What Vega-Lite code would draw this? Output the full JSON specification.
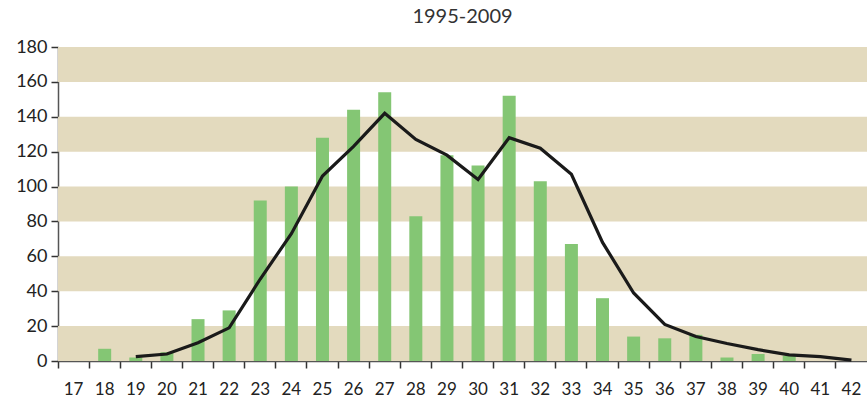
{
  "$schema": "https://vega.github.io/schema/vega-lite/v6.json",
  "autosize": "none",
  "width": 809,
  "height": 314,
  "padding": {"left": 58, "top": 47, "right": 0, "bottom": 41},
  "background": "white",
  "title": {"text": "1995-2009", "fontSize": 20, "font": "Lato", "fontWeight": "normal", "color": "#333333", "offset": 11, "anchor": "middle"},
  "config": {
    "view": {"stroke": null},
    "axis": {"labelFont": "Lato", "labelFontSize": 17, "labelColor": "#222222", "grid": false, "domainColor": "#555555", "tickColor": "#333333", "domainWidth": 1.5, "tickWidth": 1.5},
    "axisY": {"labelOverlap": false, "labelFontSize": 18, "tickSize": 7, "labelPadding": 4}
  },
  "datasets": {
    "bands": [
      {"lo": 0, "hi": 20}, {"lo": 40, "hi": 60}, {"lo": 80, "hi": 100}, {"lo": 120, "hi": 140}, {"lo": 160, "hi": 180}
    ],
    "bars": [
      {"age": "17", "count": 0}, {"age": "18", "count": 7}, {"age": "19", "count": 2}, {"age": "20", "count": 5},
      {"age": "21", "count": 24}, {"age": "22", "count": 29}, {"age": "23", "count": 92}, {"age": "24", "count": 100},
      {"age": "25", "count": 128}, {"age": "26", "count": 144}, {"age": "27", "count": 154}, {"age": "28", "count": 83},
      {"age": "29", "count": 118}, {"age": "30", "count": 112}, {"age": "31", "count": 152}, {"age": "32", "count": 103},
      {"age": "33", "count": 67}, {"age": "34", "count": 36}, {"age": "35", "count": 14}, {"age": "36", "count": 13},
      {"age": "37", "count": 15}, {"age": "38", "count": 2}, {"age": "39", "count": 4}, {"age": "40", "count": 3},
      {"age": "41", "count": 0}, {"age": "42", "count": 0}
    ],
    "line": [
      {"age": "19", "avg": 2.5}, {"age": "20", "avg": 4}, {"age": "21", "avg": 10.5}, {"age": "22", "avg": 19},
      {"age": "23", "avg": 47}, {"age": "24", "avg": 73}, {"age": "25", "avg": 106}, {"age": "26", "avg": 123},
      {"age": "27", "avg": 142}, {"age": "28", "avg": 127}, {"age": "29", "avg": 118}, {"age": "30", "avg": 104},
      {"age": "31", "avg": 128}, {"age": "32", "avg": 122}, {"age": "33", "avg": 107}, {"age": "34", "avg": 68},
      {"age": "35", "avg": 39}, {"age": "36", "avg": 21}, {"age": "37", "avg": 14}, {"age": "38", "avg": 10},
      {"age": "39", "avg": 6.5}, {"age": "40", "avg": 3.5}, {"age": "41", "avg": 2.5}, {"age": "42", "avg": 0.5}
    ]
  },
  "encoding": {
    "y": {"type": "quantitative", "title": null,
          "scale": {"domain": [0, 180], "nice": false},
          "axis": {"values": [0, 20, 40, 60, 80, 100, 120, 140, 160, 180], "labelOverlap": false, "labelFontSize": 18}}
  },
  "layer": [
    {
      "data": {"name": "bands"},
      "mark": {"type": "rect", "color": "#e3dabe"},
      "encoding": {
        "y": {"field": "lo", "type": "quantitative", "title": null,
              "scale": {"domain": [0, 180], "nice": false},
              "axis": {"values": [0, 20, 40, 60, 80, 100, 120, 140, 160, 180], "labelOverlap": false, "labelFontSize": 18}},
        "y2": {"field": "hi"}
      }
    },
    {
      "data": {"name": "bars"},
      "mark": {"type": "bar", "color": "#84c674", "size": 13},
      "encoding": {
        "x": {"field": "age", "type": "ordinal", "title": null,
              "scale": {"paddingInner": 0, "paddingOuter": 0},
              "axis": {"labelAngle": 0, "bandPosition": 0, "tickSize": 7, "labelPadding": 13, "labelFontSize": 17}},
        "y": {"field": "count", "type": "quantitative", "title": null,
              "scale": {"domain": [0, 180], "nice": false},
              "axis": {"values": [0, 20, 40, 60, 80, 100, 120, 140, 160, 180], "labelOverlap": false, "labelFontSize": 18}}
      }
    },
    {
      "data": {"name": "line"},
      "mark": {"type": "line", "color": "#1a1a1a", "strokeWidth": 3.2},
      "encoding": {
        "x": {"field": "age", "type": "ordinal"},
        "y": {"field": "avg", "type": "quantitative", "title": null,
              "axis": {"values": [0, 20, 40, 60, 80, 100, 120, 140, 160, 180], "labelOverlap": false, "labelFontSize": 18}}
      }
    }
  ]
}
